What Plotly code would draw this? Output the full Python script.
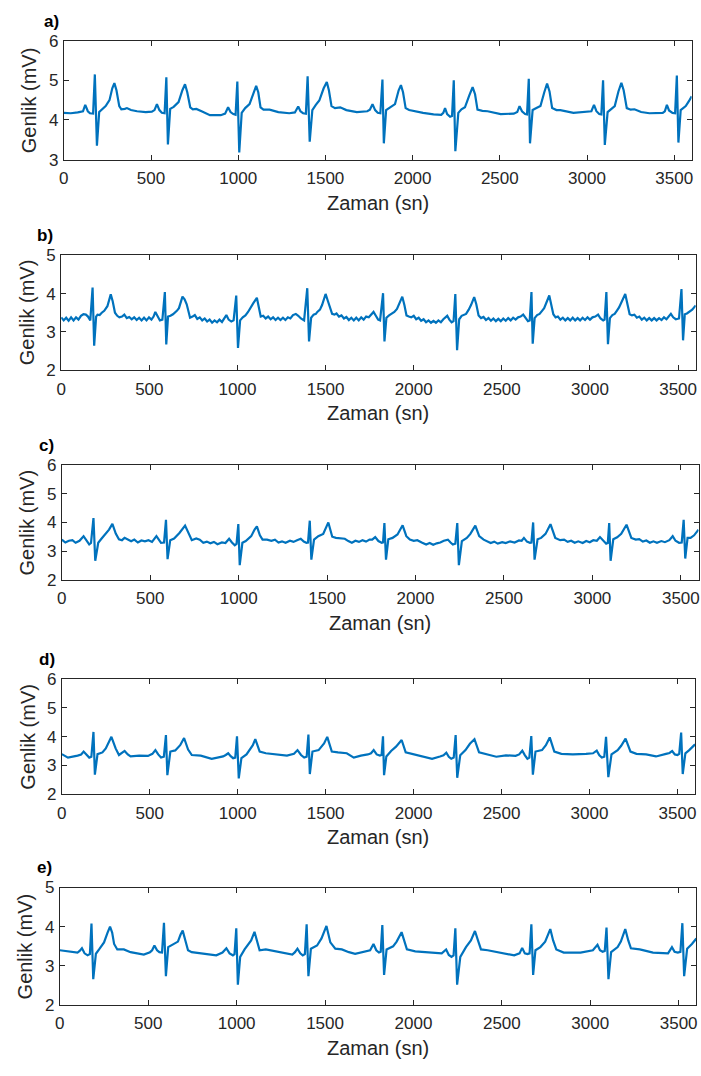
import plotly.graph_objects as go

# samples: (sample index, amplitude in mV)
sig_a = [(0, 4.18), (40, 4.17), (80, 4.19), (110, 4.22), (123, 4.38), (138, 4.22), (150, 4.17), (168, 4.16),
         (178, 5.15), (190, 3.35), (203, 4.20), (220, 4.28), (240, 4.35), (262, 4.50), (278, 4.80), (290, 4.93),
         (302, 4.75), (318, 4.35), (330, 4.27), (350, 4.28), (362, 4.30), (385, 4.25), (420, 4.22), (470, 4.20),
         (505, 4.21), (520, 4.25), (534, 4.40), (548, 4.25), (562, 4.18), (578, 4.17), (588, 5.08), (597, 3.38),
         (610, 4.28), (630, 4.33), (658, 4.45), (680, 4.75), (695, 4.90), (708, 4.70), (725, 4.32), (740, 4.27),
         (760, 4.28), (790, 4.22), (838, 4.12), (900, 4.12), (925, 4.16), (942, 4.32), (956, 4.20), (972, 4.15),
         (985, 4.13), (995, 4.97), (1006, 3.18), (1020, 4.18), (1040, 4.30), (1065, 4.40), (1088, 4.70),
         (1103, 4.86), (1115, 4.70), (1128, 4.32), (1145, 4.26), (1180, 4.26), (1230, 4.20), (1293, 4.17),
         (1325, 4.19), (1344, 4.34), (1357, 4.22), (1372, 4.17), (1388, 4.16), (1398, 5.10), (1410, 3.45),
         (1425, 4.25), (1445, 4.38), (1465, 4.49), (1490, 4.80), (1508, 4.96), (1520, 4.75), (1535, 4.35),
         (1555, 4.30), (1585, 4.32), (1620, 4.25), (1680, 4.20), (1740, 4.22), (1755, 4.26), (1770, 4.40),
         (1785, 4.25), (1800, 4.18), (1815, 4.17), (1827, 5.02), (1835, 3.41), (1848, 4.25), (1870, 4.32),
         (1899, 4.40), (1920, 4.75), (1933, 4.88), (1945, 4.70), (1960, 4.30), (1980, 4.25), (2008, 4.22),
         (2060, 4.18), (2120, 4.14), (2164, 4.13), (2176, 4.18), (2186, 4.30), (2198, 4.15), (2215, 4.08),
         (2226, 4.10), (2236, 5.00), (2245, 3.21), (2262, 4.18), (2280, 4.27), (2300, 4.32), (2325, 4.62),
         (2344, 4.83), (2358, 4.65), (2372, 4.26), (2400, 4.23), (2430, 4.22), (2505, 4.15), (2580, 4.16),
         (2600, 4.20), (2613, 4.35), (2627, 4.22), (2645, 4.15), (2656, 4.14), (2666, 5.04), (2673, 3.41),
         (2688, 4.25), (2710, 4.30), (2733, 4.35), (2755, 4.70), (2771, 4.92), (2785, 4.72), (2800, 4.30),
         (2825, 4.25), (2847, 4.25), (2922, 4.18), (3000, 4.20), (3025, 4.22), (3040, 4.38), (3054, 4.22),
         (3070, 4.15), (3082, 4.14), (3092, 5.00), (3102, 3.37), (3118, 4.20), (3140, 4.28), (3159, 4.35),
         (3180, 4.72), (3197, 4.94), (3210, 4.75), (3228, 4.30), (3250, 4.26), (3272, 4.27), (3310, 4.20),
         (3358, 4.17), (3434, 4.18), (3446, 4.22), (3458, 4.38), (3470, 4.24), (3490, 4.18), (3505, 4.17),
         (3515, 5.12), (3524, 3.43), (3537, 4.25), (3555, 4.30), (3566, 4.35), (3585, 4.48), (3600, 4.60)]

sig_b = [(0, 3.38), (14, 3.30), (28, 3.37), (42, 3.29), (56, 3.38), (70, 3.30), (84, 3.38), (98, 3.32),
         (112, 3.42), (126, 3.46), (140, 3.45), (152, 3.40), (165, 3.30), (178, 4.16), (187, 2.64), (198, 3.40),
         (206, 3.45), (218, 3.44), (230, 3.50), (244, 3.55), (262, 3.67), (281, 3.98), (292, 3.80), (305, 3.50),
         (318, 3.42), (330, 3.38), (345, 3.40), (358, 3.45), (372, 3.36), (386, 3.39), (400, 3.33), (414, 3.38),
         (428, 3.31), (442, 3.37), (456, 3.30), (470, 3.37), (484, 3.30), (498, 3.38), (512, 3.32), (524, 3.40),
         (534, 3.52), (546, 3.42), (560, 3.30), (574, 3.32), (588, 4.04), (596, 2.67), (606, 3.40), (620, 3.42),
         (634, 3.46), (656, 3.55), (668, 3.62), (688, 3.92), (700, 3.85), (712, 3.72), (731, 3.37), (745, 3.40),
         (758, 3.44), (772, 3.34), (786, 3.38), (800, 3.30), (814, 3.35), (828, 3.27), (842, 3.32), (856, 3.24),
         (870, 3.30), (884, 3.25), (898, 3.32), (912, 3.26), (925, 3.35), (937, 3.44), (950, 3.32), (965, 3.27),
         (978, 3.30), (993, 3.95), (1003, 2.58), (1015, 3.30), (1030, 3.38), (1045, 3.43), (1060, 3.52),
         (1075, 3.65), (1090, 3.75), (1110, 3.89), (1122, 3.62), (1132, 3.40), (1146, 3.42), (1160, 3.35),
         (1174, 3.40), (1188, 3.33), (1202, 3.38), (1216, 3.31), (1230, 3.37), (1244, 3.31), (1258, 3.37),
         (1272, 3.31), (1286, 3.38), (1300, 3.35), (1315, 3.44), (1331, 3.47), (1345, 3.42), (1360, 3.35),
         (1378, 3.30), (1396, 4.14), (1406, 2.75), (1418, 3.37), (1432, 3.45), (1445, 3.47), (1453, 3.52),
         (1468, 3.58), (1480, 3.70), (1500, 3.99), (1512, 3.82), (1525, 3.60), (1537, 3.47), (1550, 3.45),
         (1562, 3.48), (1576, 3.40), (1590, 3.43), (1604, 3.35), (1618, 3.39), (1632, 3.31), (1646, 3.37),
         (1660, 3.30), (1674, 3.37), (1688, 3.30), (1702, 3.38), (1716, 3.32), (1730, 3.40), (1745, 3.38),
         (1760, 3.45), (1772, 3.52), (1785, 3.42), (1798, 3.32), (1809, 3.30), (1826, 4.01), (1834, 2.75),
         (1845, 3.37), (1860, 3.43), (1875, 3.47), (1890, 3.52), (1905, 3.60), (1935, 3.92), (1947, 3.70),
         (1959, 3.43), (1972, 3.40), (1986, 3.38), (2000, 3.42), (2014, 3.33), (2028, 3.37), (2042, 3.29),
         (2056, 3.33), (2070, 3.25), (2084, 3.30), (2098, 3.24), (2112, 3.29), (2126, 3.24), (2140, 3.30),
         (2154, 3.25), (2168, 3.33), (2180, 3.38), (2190, 3.42), (2202, 3.32), (2215, 3.25), (2226, 3.28),
         (2236, 3.99), (2246, 2.52), (2258, 3.33), (2272, 3.42), (2285, 3.44), (2297, 3.47), (2312, 3.58),
         (2325, 3.70), (2343, 3.91), (2355, 3.72), (2368, 3.43), (2382, 3.36), (2396, 3.39), (2410, 3.31),
         (2424, 3.36), (2438, 3.29), (2452, 3.35), (2466, 3.28), (2480, 3.34), (2494, 3.28), (2508, 3.35),
         (2522, 3.29), (2536, 3.36), (2550, 3.30), (2564, 3.37), (2578, 3.32), (2592, 3.38), (2606, 3.40),
         (2621, 3.45), (2634, 3.38), (2648, 3.28), (2658, 3.30), (2668, 4.04), (2675, 2.69), (2686, 3.36),
         (2700, 3.44), (2714, 3.47), (2728, 3.55), (2740, 3.62), (2769, 3.95), (2780, 3.75), (2792, 3.46),
         (2805, 3.38), (2818, 3.40), (2832, 3.32), (2846, 3.37), (2860, 3.30), (2874, 3.36), (2888, 3.30),
         (2902, 3.37), (2916, 3.30), (2930, 3.36), (2944, 3.30), (2958, 3.37), (2972, 3.31), (2986, 3.38),
         (3000, 3.32), (3014, 3.38), (3030, 3.40), (3046, 3.45), (3060, 3.35), (3075, 3.30), (3083, 3.32),
         (3093, 4.04), (3102, 2.68), (3113, 3.36), (3127, 3.44), (3140, 3.47), (3152, 3.55), (3165, 3.64),
         (3200, 3.99), (3212, 3.75), (3225, 3.46), (3238, 3.43), (3252, 3.45), (3266, 3.37), (3280, 3.40),
         (3294, 3.32), (3308, 3.37), (3322, 3.30), (3336, 3.36), (3350, 3.30), (3364, 3.36), (3378, 3.30),
         (3392, 3.36), (3406, 3.31), (3420, 3.38), (3434, 3.33), (3447, 3.40), (3459, 3.47), (3472, 3.38),
         (3487, 3.33), (3505, 3.35), (3519, 4.12), (3528, 2.78), (3538, 3.46), (3550, 3.48), (3565, 3.53),
         (3580, 3.58), (3600, 3.69)]

sig_c = [(0, 3.40), (20, 3.30), (40, 3.36), (60, 3.38), (78, 3.29), (100, 3.36), (123, 3.52), (140, 3.35),
         (155, 3.23), (165, 3.28), (179, 4.15), (189, 2.66), (206, 3.29), (224, 3.43), (249, 3.61), (267, 3.75),
         (286, 3.95), (305, 3.61), (323, 3.41), (340, 3.38), (355, 3.46), (375, 3.38), (392, 3.34), (410, 3.40),
         (430, 3.30), (450, 3.37), (470, 3.34), (490, 3.38), (510, 3.32), (535, 3.52), (550, 3.38), (561, 3.29),
         (578, 3.30), (589, 4.09), (598, 2.72), (613, 3.38), (635, 3.44), (665, 3.63), (697, 3.89), (715, 3.65),
         (735, 3.38), (760, 3.44), (780, 3.40), (800, 3.29), (820, 3.33), (840, 3.27), (860, 3.32), (880, 3.24),
         (905, 3.30), (925, 3.28), (946, 3.43), (962, 3.30), (978, 3.20), (988, 3.25), (998, 3.94), (1006, 2.51),
         (1021, 3.29), (1040, 3.35), (1071, 3.52), (1090, 3.75), (1103, 3.86), (1120, 3.55), (1135, 3.40),
         (1160, 3.40), (1185, 3.36), (1205, 3.40), (1225, 3.30), (1245, 3.34), (1265, 3.29), (1290, 3.36),
         (1310, 3.32), (1330, 3.38), (1351, 3.43), (1368, 3.33), (1383, 3.29), (1392, 3.30), (1402, 4.06),
         (1411, 2.70), (1426, 3.40), (1450, 3.52), (1478, 3.60), (1507, 4.00), (1529, 3.50), (1550, 3.46),
         (1575, 3.45), (1600, 3.43), (1620, 3.35), (1640, 3.29), (1660, 3.36), (1680, 3.32), (1700, 3.38),
         (1720, 3.33), (1740, 3.40), (1755, 3.40), (1772, 3.49), (1790, 3.35), (1809, 3.29), (1816, 3.30),
         (1824, 3.98), (1833, 2.70), (1846, 3.41), (1870, 3.46), (1898, 3.58), (1927, 3.90), (1948, 3.52),
         (1968, 3.40), (1990, 3.36), (2010, 3.38), (2035, 3.30), (2060, 3.23), (2080, 3.28), (2100, 3.22),
         (2120, 3.27), (2140, 3.30), (2160, 3.36), (2183, 3.40), (2198, 3.30), (2211, 3.23), (2225, 3.26),
         (2236, 3.98), (2245, 2.51), (2262, 3.35), (2290, 3.46), (2310, 3.60), (2338, 3.89), (2360, 3.52),
         (2385, 3.40), (2405, 3.35), (2425, 3.28), (2445, 3.33), (2465, 3.26), (2490, 3.31), (2510, 3.28),
         (2535, 3.34), (2560, 3.30), (2585, 3.37), (2600, 3.36), (2613, 3.46), (2630, 3.33), (2647, 3.29),
         (2655, 3.30), (2665, 4.00), (2673, 2.70), (2690, 3.41), (2710, 3.46), (2735, 3.60), (2763, 3.94),
         (2790, 3.46), (2818, 3.38), (2840, 3.40), (2860, 3.32), (2880, 3.36), (2900, 3.29), (2920, 3.34),
         (2945, 3.28), (2965, 3.35), (2985, 3.31), (3005, 3.38), (3025, 3.36), (3043, 3.49), (3060, 3.36),
         (3078, 3.26), (3087, 3.28), (3095, 3.98), (3103, 2.66), (3118, 3.41), (3140, 3.48), (3163, 3.60),
         (3193, 3.92), (3220, 3.46), (3245, 3.40), (3265, 3.42), (3285, 3.33), (3305, 3.37), (3325, 3.29),
         (3345, 3.34), (3365, 3.29), (3390, 3.35), (3410, 3.31), (3435, 3.38), (3454, 3.52), (3470, 3.36),
         (3490, 3.29), (3505, 3.30), (3516, 4.09), (3525, 2.74), (3538, 3.46), (3555, 3.46), (3575, 3.55),
         (3600, 3.75)]

sig_d = [(0, 3.39), (35, 3.27), (90, 3.34), (110, 3.38), (124, 3.48), (140, 3.36), (156, 3.27), (168, 3.30),
         (180, 4.16), (188, 2.68), (203, 3.39), (231, 3.45), (250, 3.59), (282, 3.99), (306, 3.59), (325, 3.36),
         (340, 3.42), (357, 3.50), (375, 3.38), (391, 3.31), (440, 3.34), (490, 3.33), (515, 3.40), (532, 3.53),
         (548, 3.38), (564, 3.27), (580, 3.30), (592, 4.05), (600, 2.66), (617, 3.48), (645, 3.52), (673, 3.70),
         (695, 3.95), (718, 3.55), (739, 3.36), (790, 3.34), (852, 3.23), (917, 3.31), (932, 3.36), (946, 3.42),
         (960, 3.32), (974, 3.25), (986, 3.27), (996, 4.01), (1006, 2.55), (1021, 3.25), (1050, 3.38),
         (1086, 3.70), (1100, 3.91), (1125, 3.48), (1160, 3.42), (1210, 3.38), (1280, 3.34), (1320, 3.40),
         (1340, 3.53), (1360, 3.36), (1378, 3.27), (1392, 3.30), (1402, 4.07), (1410, 2.70), (1425, 3.48),
         (1460, 3.53), (1491, 3.76), (1509, 3.99), (1535, 3.48), (1570, 3.45), (1620, 3.42), (1660, 3.27),
         (1700, 3.34), (1740, 3.38), (1758, 3.42), (1773, 3.53), (1790, 3.38), (1808, 3.34), (1818, 3.36),
         (1826, 4.01), (1832, 2.66), (1845, 3.31), (1872, 3.50), (1900, 3.65), (1932, 3.88), (1955, 3.45),
         (1990, 3.40), (2050, 3.30), (2105, 3.23), (2150, 3.31), (2170, 3.35), (2186, 3.44), (2200, 3.30),
         (2214, 3.23), (2228, 3.27), (2239, 4.05), (2248, 2.57), (2265, 3.35), (2295, 3.53), (2320, 3.75),
         (2346, 3.91), (2372, 3.45), (2410, 3.40), (2470, 3.30), (2525, 3.35), (2580, 3.33), (2600, 3.38),
         (2618, 3.51), (2633, 3.35), (2647, 3.23), (2658, 3.27), (2669, 4.02), (2678, 2.68), (2693, 3.48),
         (2730, 3.53), (2752, 3.70), (2774, 3.97), (2800, 3.48), (2840, 3.40), (2905, 3.38), (2980, 3.40),
         (3020, 3.42), (3041, 3.51), (3056, 3.35), (3070, 3.27), (3084, 3.30), (3094, 3.99), (3107, 2.59),
         (3125, 3.38), (3160, 3.53), (3180, 3.68), (3205, 3.93), (3233, 3.48), (3267, 3.40), (3322, 3.38),
         (3378, 3.31), (3435, 3.40), (3455, 3.43), (3470, 3.50), (3485, 3.38), (3500, 3.36), (3510, 3.40),
         (3521, 4.14), (3530, 2.70), (3545, 3.42), (3567, 3.53), (3600, 3.73)]

sig_e = [(0, 3.40), (40, 3.37), (80, 3.35), (100, 3.34), (112, 3.38), (125, 3.45), (140, 3.32), (157, 3.27),
         (170, 3.30), (179, 4.08), (189, 2.66), (204, 3.31), (222, 3.42), (250, 3.60), (270, 3.85), (284, 4.00),
         (296, 3.85), (307, 3.56), (325, 3.42), (362, 3.42), (400, 3.35), (475, 3.29), (510, 3.35), (522, 3.40),
         (535, 3.52), (550, 3.40), (563, 3.35), (578, 3.34), (589, 4.10), (600, 2.74), (613, 3.48), (640, 3.54),
         (668, 3.62), (683, 3.80), (695, 3.90), (710, 3.65), (725, 3.40), (746, 3.35), (810, 3.31), (885, 3.27),
         (920, 3.34), (942, 3.45), (960, 3.32), (979, 3.27), (988, 3.30), (998, 3.96), (1007, 2.52), (1020, 3.23),
         (1045, 3.42), (1082, 3.65), (1101, 3.87), (1115, 3.65), (1130, 3.40), (1165, 3.42), (1240, 3.35),
         (1315, 3.29), (1330, 3.35), (1344, 3.44), (1360, 3.32), (1374, 3.27), (1386, 3.30), (1396, 4.06),
         (1406, 2.74), (1420, 3.44), (1455, 3.52), (1480, 3.70), (1508, 4.02), (1530, 3.60), (1558, 3.44),
         (1595, 3.42), (1635, 3.35), (1670, 3.31), (1755, 3.40), (1774, 3.56), (1790, 3.40), (1805, 3.34),
         (1815, 3.36), (1824, 4.04), (1834, 2.77), (1848, 3.42), (1885, 3.50), (1905, 3.62), (1933, 3.86),
         (1950, 3.60), (1963, 3.42), (2010, 3.37), (2085, 3.34), (2160, 3.32), (2185, 3.42), (2200, 3.28),
         (2215, 3.23), (2227, 3.27), (2237, 3.96), (2247, 2.52), (2265, 3.23), (2297, 3.48), (2325, 3.65),
         (2348, 3.89), (2365, 3.65), (2382, 3.42), (2420, 3.40), (2495, 3.33), (2570, 3.27), (2600, 3.32),
         (2615, 3.46), (2630, 3.32), (2645, 3.30), (2657, 3.32), (2667, 4.06), (2677, 2.77), (2690, 3.40),
         (2718, 3.48), (2745, 3.62), (2774, 3.94), (2790, 3.65), (2808, 3.42), (2850, 3.34), (2945, 3.34),
         (3015, 3.40), (3041, 3.54), (3055, 3.40), (3070, 3.36), (3082, 3.38), (3092, 3.98), (3103, 2.66),
         (3118, 3.35), (3155, 3.48), (3173, 3.62), (3198, 3.94), (3215, 3.65), (3230, 3.45), (3280, 3.42),
         (3355, 3.34), (3440, 3.32), (3462, 3.48), (3477, 3.36), (3495, 3.34), (3510, 3.36), (3521, 4.09),
         (3531, 2.74), (3548, 3.44), (3575, 3.56), (3600, 3.70)]

x_ticks = [0, 500, 1000, 1500, 2000, 2500, 3000, 3500]
labels = ["a)", "b)", "c)", "d)", "e)"]
y_ranges = [[3, 6], [2, 5], [2, 6], [2, 6], [2, 5]]
signals = [sig_a, sig_b, sig_c, sig_d, sig_e]

# plot boxes in pixels: left, right, top, bottom
W, H = 701, 1076
boxes = [(59.3, 692.6, 32.3, 153.3),
         (56.7, 696.7, 250.7, 367.7),
         (57.3, 699.5, 464.3, 581.0),
         (57.3, 696.0, 682.0, 799.3),
         (55.3, 697.3, 894.3, 1014.0)]
lab_x = [37, 30, 32, 32, 30]

ink = "#262626"
font = "Liberation Sans, Arial, sans-serif"

fig = go.Figure()
annotations = []
for i, sig in enumerate(signals):
    n = "" if i == 0 else str(i + 1)
    left, right, top, bottom = boxes[i]
    fig.add_trace(go.Scatter(x=[p[0] for p in sig], y=[p[1] for p in sig], mode="lines",
                             line=dict(color="#0072BD", width=2.2), xaxis="x" + n, yaxis="y" + n,
                             showlegend=False, hoverinfo="skip"))
    lo, hi = y_ranges[i]
    axis_style = dict(showline=True, linecolor=ink, linewidth=1, mirror="ticks", ticks="inside",
                      ticklen=5, tickcolor=ink, tickwidth=1, showgrid=False, zeroline=False,
                      tickfont=dict(family=font, size=17, color=ink))
    fig.layout["xaxis" + n] = dict(domain=[left / W, right / W], range=[0, 3600], anchor="y" + n,
                                   tickvals=x_ticks, ticklabelstandoff=3, **axis_style)
    fig.layout["yaxis" + n] = dict(domain=[1 - bottom / H, 1 - top / H], range=[lo, hi], anchor="x" + n,
                                   tickvals=list(range(lo, hi + 1)), ticklabelstandoff=1, **axis_style)
    annotations.append(dict(text=labels[i], x=lab_x[i] / W, y=1 - (top - 20) / H, xref="paper", yref="paper",
                            xanchor="left", yanchor="middle", showarrow=False,
                            font=dict(family=font, size=17, color="black", weight="bold")))
    annotations.append(dict(text="Zaman (sn)", x=(left + right) / 2 / W, y=1 - (bottom + 44) / H,
                            xref="paper", yref="paper", xanchor="center", yanchor="middle", showarrow=False,
                            font=dict(family=font, size=20, color=ink)))
    annotations.append(dict(text="Genlik (mV)", x=(left - 35) / W, y=1 - (top + bottom) / 2 / H,
                            xref="paper", yref="paper", xanchor="center", yanchor="middle", showarrow=False,
                            textangle=-90, font=dict(family=font, size=20, color=ink)))

fig.update_layout(width=W, height=H, margin=dict(l=0, r=0, t=0, b=0), plot_bgcolor="white",
                  paper_bgcolor="white", annotations=annotations)
fig.write_html("out.html", config={"displayModeBar": False},
               post_script="document.body.style.margin='0';")
